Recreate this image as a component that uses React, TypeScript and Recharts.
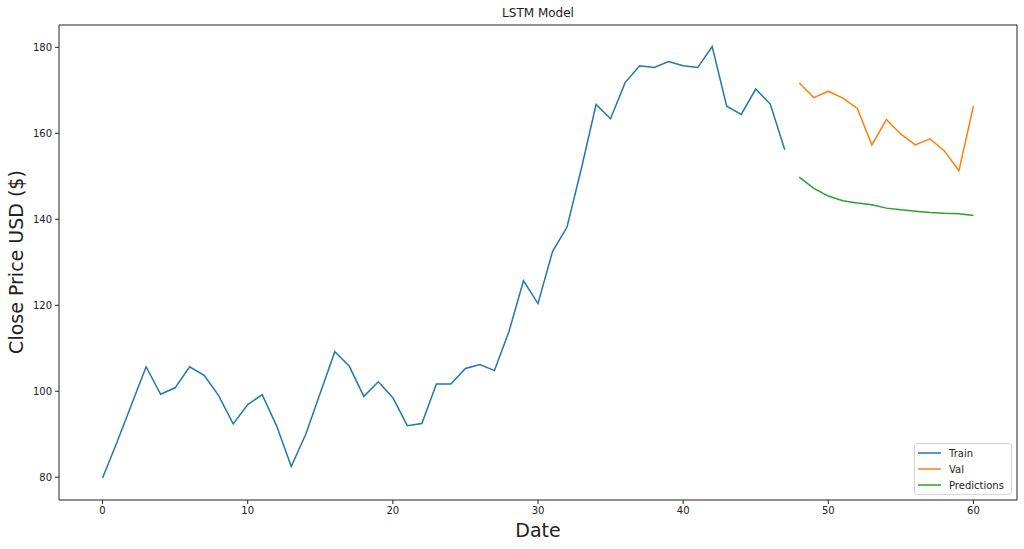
import {
    LineChart,
    Line,
    XAxis,
    YAxis
} from "recharts";

const trainClose = [
    79.8, 88.2, 96.9, 105.7, 99.3, 100.8, 105.7, 103.7, 99.0, 92.4,
    96.9, 99.2, 91.9, 82.5, 90.0, 99.6, 109.2, 105.8, 98.8, 102.2,
    98.5, 92.0, 92.5, 101.7, 101.7, 105.3, 106.2, 104.8, 113.9, 125.7,
    120.4, 132.5, 138.2, 152.0, 166.7, 163.4, 171.8, 175.7, 175.3, 176.7,
    175.7, 175.3, 180.2, 166.3, 164.4, 170.3, 166.8, 156.2
];
const valClose = [
    171.7, 168.3, 169.8, 168.2, 165.8, 157.3, 163.2, 159.8, 157.3, 158.7,
    155.9, 151.3, 166.4
];
const predClose = [
    149.8, 147.2, 145.4, 144.3, 143.8, 143.4, 142.6, 142.2, 141.9, 141.6,
    141.4, 141.3, 140.9
];
const xTicks = [0, 10, 20, 30, 40, 50, 60];
const yTicks = [80, 100, 120, 140, 160, 180];

const valStart = trainClose.length;

const data = Array.from({ length: trainClose.length + valClose.length }, (_, i) => ({
    day: i,
    train: i < valStart ? trainClose[i] : undefined,
    val: i >= valStart ? valClose[i - valStart] : undefined,
    pred: i >= valStart ? predClose[i - valStart] : undefined
}));

const font = "'DejaVu Sans', sans-serif";
const series = [
    { key: "train", name: "Train", color: "#1f77b4" },
    { key: "val", name: "Val", color: "#ff7f0e" },
    { key: "pred", name: "Predictions", color: "#2ca02c" }
];

function LegendBox() {
    return (
        <div
            style={{
                position: "absolute",
                left: 914,
                top: 443,
                width: 98,
                height: 52,
                boxSizing: "border-box",
                border: "1px solid #d6d6d6",
                borderRadius: 3,
                background: "rgba(255,255,255,0.8)",
                padding: "1px 0 0 3px",
                fontFamily: font,
                fontSize: 10,
                color: "#222"
            }}
        >
            {series.map((s) => (
                <div key={s.key} style={{ display: "flex", alignItems: "center", height: 16 }}>
                    <svg width={23} height={4} style={{ marginRight: 8 }}>
                        <line x1={0} y1={2} x2={23} y2={2} stroke={s.color} strokeWidth={1.5} />
                    </svg>
                    {s.name}
                </div>
            ))}
        </div>
    );
}

export default function App() {
    const tickStyle = { fontFamily: font, fontSize: 10, fill: "#222" };
    return (
        <div style={{ position: "absolute", left: 0, top: 0, width: 1024, height: 549, background: "#fff" }}>
            <div
                style={{
                    position: "absolute",
                    left: 59,
                    width: 958,
                    top: 6,
                    textAlign: "center",
                    fontFamily: font,
                    fontSize: 12,
                    color: "#222"
                }}
            >
                LSTM Model
            </div>
            <div
                style={{
                    position: "absolute",
                    left: 59,
                    width: 958,
                    top: 519,
                    textAlign: "center",
                    fontFamily: font,
                    fontSize: 19,
                    color: "#222"
                }}
            >
                Date
            </div>
            <div
                style={{
                    position: "absolute",
                    left: 16,
                    top: 262,
                    transform: "translate(-50%, -50%) rotate(-90deg)",
                    whiteSpace: "nowrap",
                    fontFamily: font,
                    fontSize: 19,
                    color: "#222"
                }}
            >
                Close Price USD ($)
            </div>
            <LineChart
                width={1024}
                height={549}
                data={data}
                margin={{ top: 24, right: 6, bottom: 0, left: 0 }}
                style={{ position: "absolute", left: 0, top: 0 }}
            >
                <XAxis
                    xAxisId="main"
                    dataKey="day"
                    type="number"
                    domain={[-3, 63]}
                    ticks={xTicks}
                    allowDataOverflow
                    height={49}
                    stroke="#222"
                    tickSize={4}
                    tick={tickStyle}
                    tickMargin={3}
                />
                <XAxis
                    xAxisId="top"
                    dataKey="day"
                    type="number"
                    orientation="top"
                    domain={[-3, 63]}
                    height={1}
                    stroke="#222"
                    tick={false}
                    tickLine={false}
                />
                <YAxis
                    yAxisId="main"
                    type="number"
                    domain={[74.7, 185.2]}
                    ticks={yTicks}
                    allowDataOverflow
                    width={59}
                    stroke="#222"
                    tickSize={4}
                    tick={tickStyle}
                    tickMargin={3}
                />
                <YAxis
                    yAxisId="right"
                    type="number"
                    orientation="right"
                    domain={[74.7, 185.2]}
                    width={1}
                    stroke="#222"
                    tick={false}
                    tickLine={false}
                />
                {series.map((s) => (
                    <Line
                        key={s.key}
                        xAxisId="main"
                        yAxisId="main"
                        type="linear"
                        dataKey={s.key}
                        name={s.name}
                        stroke={s.color}
                        strokeWidth={1.5}
                        dot={false}
                        activeDot={false}
                        connectNulls={false}
                        isAnimationActive={false}
                    />
                ))}
                <Line
                    xAxisId="top"
                    yAxisId="right"
                    dataKey="pred"
                    stroke="none"
                    dot={false}
                    activeDot={false}
                    legendType="none"
                    isAnimationActive={false}
                />
            </LineChart>
            <LegendBox />
        </div>
    );
}
